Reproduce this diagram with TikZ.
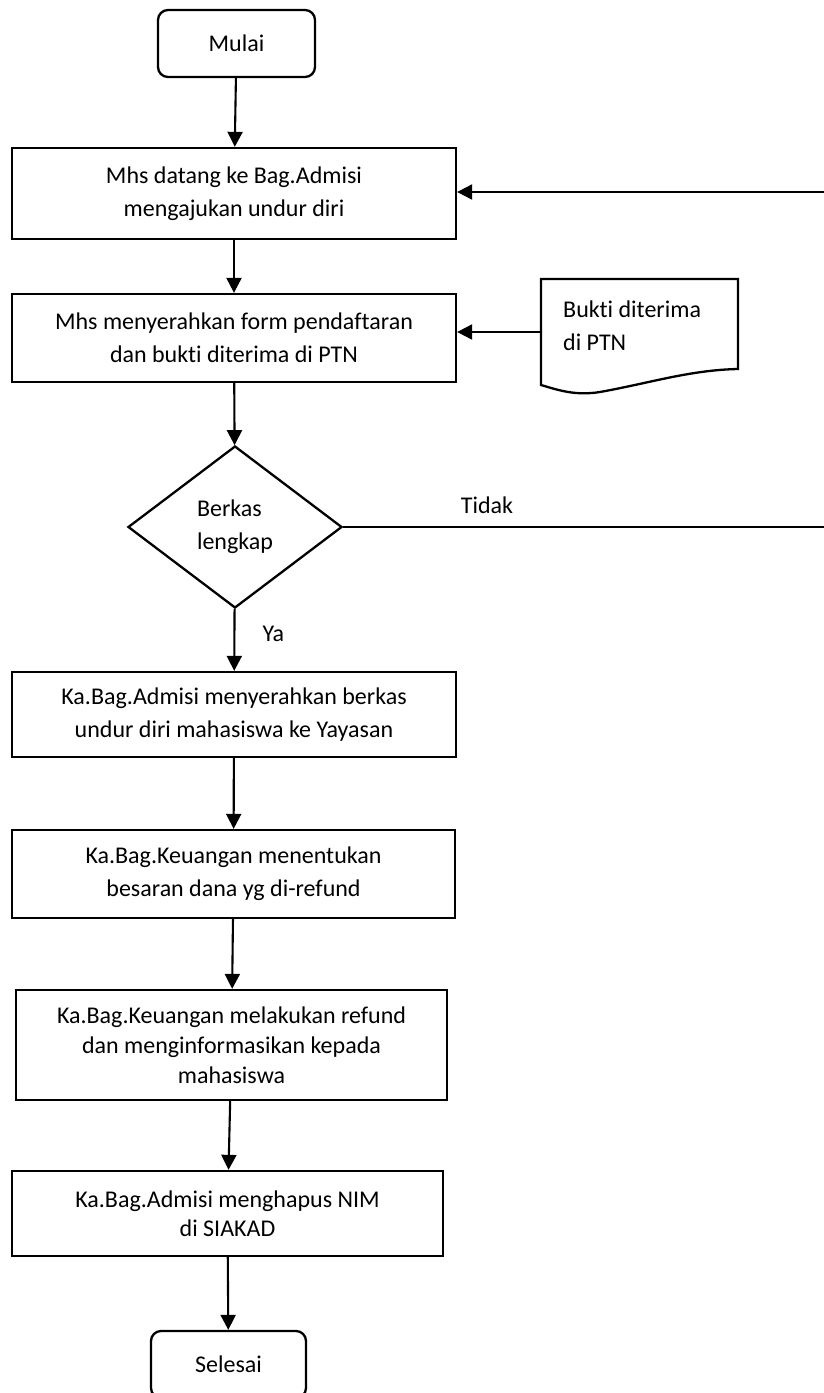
\documentclass[tikz,border=0pt]{standalone}
\usepackage{fontspec}
\setmainfont{Carlito}[Ligatures=NoCommon]
\usetikzlibrary{positioning,shapes.geometric,arrows.meta}

\begin{document}
\begin{tikzpicture}[x=1pt,y=1pt,font=\fontsize{24pt}{33pt}\selectfont,
        st/.style={draw,line width=2.3pt,minimum width=444pt,minimum height=88pt,align=center,inner sep=2pt},
        term/.style={draw,line width=2.3pt,rounded corners=10pt,minimum width=157pt,minimum height=67pt,inner sep=2pt},
        dec/.style={draw,diamond,line width=2.3pt,aspect=1.32,minimum width=214pt,minimum height=162pt,inner sep=0pt,align=left},
        ar/.style={-{Triangle[length=15pt,width=15pt]},line width=2.1pt}]
        \useasboundingbox (0,0) rectangle (824,-1393);
        \clip (0,0) rectangle (824,-1393);
        \node[term] (mulai) at (236.5,-43.5) {Mulai};
        \node[st,minimum height=91pt] (datang) at (234,-193.5) {Mhs datang ke Bag.Admisi\\mengajukan undur diri};
        \node[st] (serah) at (234,-338) {Mhs menyerahkan form pendaftaran\\dan bukti diterima di PTN};
        \node[dec] (lengkap) at (235,-527) {Berkas\\lengkap};
        \node[st,minimum height=85pt] (yayasan) at (234,-714.5) {Ka.Bag.Admisi menyerahkan berkas\\undur diri mahasiswa ke Yayasan};
        \node[st,minimum width=443pt] (besaran) at (233.5,-874) {Ka.Bag.Keuangan menentukan\\besaran dana yg di-refund};
        \node[st,minimum width=431pt,minimum height=110pt,font=\fontsize{24pt}{30pt}\selectfont] (refund) at (231.5,-1045) {Ka.Bag.Keuangan melakukan refund\\dan menginformasikan kepada\\mahasiswa};
        \node[st,minimum width=431pt,minimum height=85pt,font=\fontsize{24pt}{29pt}\selectfont] (nim) at (227.5,-1213.5) {Ka.Bag.Admisi menghapus NIM\\di SIAKAD};
        \node[term,minimum width=155pt] (selesai) at (228.5,-1364.5) {Selesai};
        % dokumen bukti
        \node[align=left,inner sep=0pt,anchor=west] (bukti) at (563,-326) {Bukti diterima\\di PTN};
        \draw[line width=2.3pt] (541,-385) -- (541,-279) -- (738,-279) -- (738,-369)
          .. controls (690,-370) and (650,-383) .. (600,-392)
          .. controls (575,-396) and (558,-390) .. (541,-385) -- cycle;
        \coordinate (buktiin) at (541,-332);
        \draw[ar] (buktiin) -- (serah.east |- buktiin);
        \foreach \a/\b in {mulai/datang,datang/serah,serah/lengkap,lengkap/yayasan,yayasan/besaran,besaran/refund,refund/nim,nim/selesai}{\draw[ar] (\a) -- (\b);}
        % kembali jika tidak lengkap
        \coordinate (kanan1) at (824,-527);
        \coordinate (kanan2) at (824,-192);
        \draw[line width=2.1pt] (lengkap.east) -- (kanan1);
        \draw[ar] (kanan2) -- (datang.east |- kanan2);
        \node[anchor=base] (tidak) at (487,-513) {Tidak};
        \node[anchor=base west] (ya) at (259,-641) {Ya};
      \end{tikzpicture}
\end{document}
